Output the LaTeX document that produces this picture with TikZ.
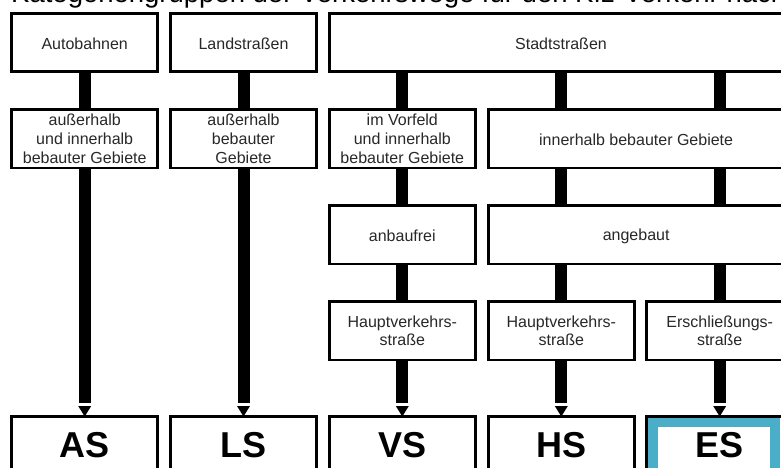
\documentclass[tikz,border=0pt]{standalone}
\usepackage{fontspec}
\setmainfont{Liberation Sans}
\usetikzlibrary{calc}
\definecolor{hl}{RGB}{74,174,200}
\definecolor{txt}{RGB}{40,40,40}
\newcommand\catarrow[2]{%
  \draw[bar] (#1.south -| #2) -- ([yshift=13.5pt]#2.north);
  \fill[tipfill] ([yshift=10.5pt]#2.north) ++(-6.5pt,0) -- ++(13pt,0) -- (#2.north) -- cycle;}
\newcommand\onestrut{\rule{0pt}{14pt}}
\begin{document}
\begin{tikzpicture}[x=1pt,y=-1pt,
  box/.style={draw=black, line width=2.6pt, fill=white, outer sep=0pt, inner sep=0pt,
    anchor=north west, minimum height=58.4pt, align=center,
    font=\fontsize{16}{18.6}\selectfont, text=txt},
  colbox/.style={box, minimum width=146pt},
  big/.style={colbox, minimum height=57pt, font=\fontsize{36}{40}\selectfont\bfseries, text=black},
  bar/.style={line width=12pt, black},
  tipfill/.style={fill=black}]
\useasboundingbox (0,0) rectangle (781,468);
\clip (0,0) rectangle (781,468);

\node[anchor=base west, inner sep=0pt, font=\fontsize{27.5}{30}\selectfont] (title) at (11,3)
  {Kategoriengruppen der Verkehrswege für den Kfz-Verkehr nach};

% row 1
\node[colbox] (autobahn) at (11.7,13.3) {\onestrut Autobahnen};
\node[colbox] (land) at (170.5,13.3) {\onestrut Landstraßen};
\node[box, minimum width=463.4pt] (stadt) at (329.3,13.3) {\onestrut Stadtstraßen};

% row 2
\node[colbox] (ab2) at (11.7,109.5) {außerhalb\\und innerhalb\\bebauter Gebiete};
\node[colbox] (ls2) at (170.5,109.5) {außerhalb\\bebauter\\Gebiete};
\node[colbox] (vorfeld) at (329.3,109.5) {im Vorfeld\\und innerhalb\\bebauter Gebiete};
\node[box, minimum width=295.7pt] (inner) at (488.3,109.5) {\onestrut innerhalb bebauter Gebiete};

% row 3
\node[colbox] (anbaufrei) at (329.3,205.5) {\onestrut anbaufrei};
\node[box, minimum width=295.7pt] (angebaut) at (488.3,205.5) {\onestrut angebaut};

% row 4
\node[colbox] (hvs1) at (329.3,301.7) {Hauptverkehrs-\\straße};
\node[colbox] (hvs2) at (488.3,301.7) {Hauptverkehrs-\\straße};
\node[colbox] (erschl) at (646.7,301.7) {Erschließungs-\\straße};

% row 5
\node[big] (as) at (11.7,416.5) {AS};
\node[big] (ls) at (170.5,416.5) {LS};
\node[big] (vs) at (329.3,416.5) {VS};
\node[big] (hs) at (488.3,416.5) {HS};
\node[big] (es) at (646.7,416.5) {ES};
\draw[hl, line width=9.7pt] ([xshift=6.6pt,yshift=-5.9pt]es.north west) rectangle ([xshift=-17.7pt,yshift=-10pt]es.south east);

% connectors
\draw[bar] (autobahn.south) -- (ab2.north);
\draw[bar] (land.south) -- (ls2.north);
\draw[bar] (stadt.south -| vorfeld) -- (vorfeld.north);
\draw[bar] (stadt.south -| hvs2) -- (inner.north -| hvs2);
\draw[bar] (stadt.south -| erschl) -- (inner.north -| erschl);
\draw[bar] (vorfeld.south) -- (anbaufrei.north);
\draw[bar] (inner.south -| hvs2) -- (angebaut.north -| hvs2);
\draw[bar] (inner.south -| erschl) -- (angebaut.north -| erschl);
\draw[bar] (anbaufrei.south) -- (hvs1.north);
\draw[bar] (angebaut.south -| hvs2) -- (hvs2.north);
\draw[bar] (angebaut.south -| erschl) -- (erschl.north);
\catarrow{ab2}{as}
\catarrow{ls2}{ls}
\catarrow{hvs1}{vs}
\catarrow{hvs2}{hs}
\catarrow{erschl}{es}
\end{tikzpicture}
\end{document}
